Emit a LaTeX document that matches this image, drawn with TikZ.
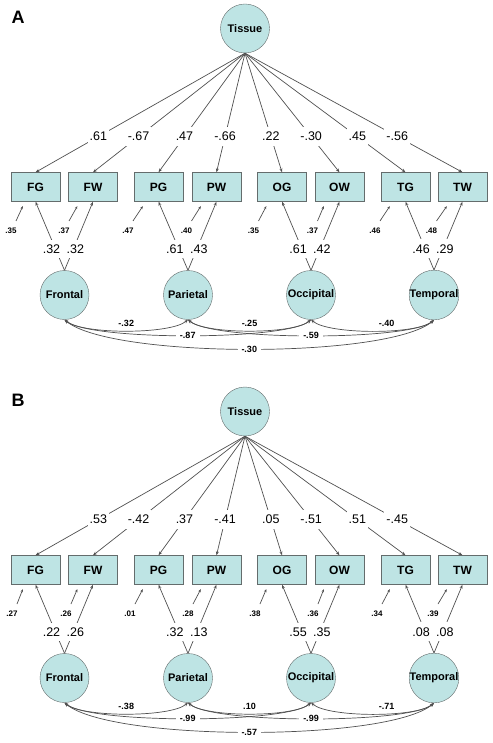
\documentclass[tikz,border=0pt]{standalone}
\usepackage{fontspec}
\setmainfont{Liberation Sans}
\usetikzlibrary{arrows.meta}
\definecolor{semfill}{RGB}{190,228,228}
\definecolor{semedge}{RGB}{100,108,108}
\definecolor{semline}{RGB}{80,80,80}

\begin{document}
\begin{tikzpicture}[x=1pt,y=1pt,
    obs/.style={draw=semedge,fill=semfill,minimum width=49pt,minimum height=29pt,inner sep=0pt,font=\fontsize{12}{12}\selectfont\bfseries},
    lat/.style={circle,draw=semedge,fill=semfill,minimum size=49pt,inner sep=0pt,font=\fontsize{11}{11}\selectfont\bfseries},
    load/.style={draw=semline,line width=0.7pt,-{Stealth[length=4pt,width=3pt]}},
    errarr/.style={draw=semline,line width=0.7pt,-{Stealth[length=3pt,width=2.5pt]}},
    covar/.style={draw=semline,line width=0.7pt,{Stealth[length=4pt,width=3pt]}-{Stealth[length=4pt,width=3pt]}},
    coef/.style={fill=white,inner xsep=2pt,inner ysep=5pt,font=\fontsize{12.5}{13}\selectfont},
    lcoef/.style={coef,inner xsep=0.5pt,xshift=-4pt},
    rcoef/.style={coef,inner xsep=0.5pt,xshift=2pt},
    errval/.style={inner sep=0pt,font=\fontsize{8}{8}\selectfont\bfseries},
    covlab/.style={inner sep=0.5pt,font=\fontsize{9}{9}\selectfont\bfseries},
    covgap/.style={covlab,fill=white,inner xsep=4pt,inner ysep=0.3pt},
    panel/.style={anchor=west,font=\fontsize{18}{18}\selectfont\bfseries}]
  \useasboundingbox (0,0) rectangle (492,-743);

  % panel A
  \node[panel] (labA) at (8,-17) {A};
  \node[lat] (tisA) at (245,-28.5) {Tissue};
  \node[obs] (fgA) at (35.5,-187) {FG};
  \node[obs] (fwA) at (93,-187) {FW};
  \node[obs] (pgA) at (158.5,-187) {PG};
  \node[obs] (pwA) at (216.5,-187) {PW};
  \node[obs] (ogA) at (282,-187) {OG};
  \node[obs] (owA) at (339.5,-187) {OW};
  \node[obs] (tgA) at (405.5,-187) {TG};
  \node[obs] (twA) at (462.5,-187) {TW};
  \node[lat] (frA) at (64.5,-295) {Frontal};
  \node[lat] (paA) at (188,-295) {Parietal};
  \node[lat] (ocA) at (311,-295) {Occipital};
  \node[lat] (teA) at (434,-295) {Temporal};
  \node[errval] (efgA) at (11,-231) {.35};
  \node[errval] (efwA) at (64,-231) {.37};
  \node[errval] (epgA) at (128,-231) {.47};
  \node[errval] (epwA) at (186.5,-231) {.40};
  \node[errval] (eogA) at (253.5,-231) {.35};
  \node[errval] (eowA) at (312.5,-231) {.37};
  \node[errval] (etgA) at (375,-231) {.46};
  \node[errval] (etwA) at (431.5,-231) {.48};

  \draw[load] (tisA.south) -- node[coef,pos=0.7] {.61} (fgA.north);
  \draw[load] (tisA.south) -- node[coef,pos=0.7] {-.67} (fwA.north);
  \draw[load] (tisA.south) -- node[coef,pos=0.7] {.47} (pgA.north);
  \draw[load] (tisA.south) -- node[coef,pos=0.7] {-.66} (pwA.north);
  \draw[load] (tisA.south) -- node[coef,pos=0.7] {.22} (ogA.north);
  \draw[load] (tisA.south) -- node[coef,pos=0.7] {-.30} (owA.north);
  \draw[load] (tisA.south) -- node[coef,pos=0.7] {.45} (tgA.north);
  \draw[load] (tisA.south) -- node[coef,pos=0.7] {-.56} (twA.north);

  \draw[load] (frA.north) -- node[lcoef,pos=0.31] {.32} (fgA.south);
  \draw[load] (frA.north) -- node[rcoef,pos=0.31] {.32} (fwA.south);
  \draw[load] (paA.north) -- node[lcoef,pos=0.31] {.61} (pgA.south);
  \draw[load] (paA.north) -- node[rcoef,pos=0.31] {.43} (pwA.south);
  \draw[load] (ocA.north) -- node[lcoef,pos=0.31] {.61} (ogA.south);
  \draw[load] (ocA.north) -- node[rcoef,pos=0.31] {.42} (owA.south);
  \draw[load] (teA.north) -- node[lcoef,pos=0.31] {.46} (tgA.south);
  \draw[load] (teA.north) -- node[rcoef,pos=0.31] {.29} (twA.south);

  \draw[errarr] ([shift={(5pt,10pt)}]efgA.center) -- ([shift={(12pt,-4.5pt)}]fgA.south west);
  \draw[errarr] ([shift={(5pt,10pt)}]efwA.center) -- ([shift={(9pt,-4.5pt)}]fwA.south west);
  \draw[errarr] ([shift={(5pt,10pt)}]epgA.center) -- ([shift={(9pt,-4.5pt)}]pgA.south west);
  \draw[errarr] ([shift={(5pt,10pt)}]epwA.center) -- ([shift={(9pt,-4.5pt)}]pwA.south west);
  \draw[errarr] ([shift={(5pt,10pt)}]eogA.center) -- ([shift={(9pt,-4.5pt)}]ogA.south west);
  \draw[errarr] ([shift={(5pt,10pt)}]eowA.center) -- ([shift={(9pt,-4.5pt)}]owA.south west);
  \draw[errarr] ([shift={(5pt,10pt)}]etgA.center) -- ([shift={(9pt,-4.5pt)}]tgA.south west);
  \draw[errarr] ([shift={(5pt,10pt)}]etwA.center) -- ([shift={(9pt,-4.5pt)}]twA.south west);

  \draw[covar] (frA.south) to[out=-40,in=-140,looseness=0.42] node[covgap] {-.30} (teA.south);
  \draw[covar] (frA.south) to[out=-40,in=-140,looseness=0.34] node[covgap] {-.87} (ocA.south);
  \draw[covar] (paA.south) to[out=-40,in=-140,looseness=0.34] node[covgap] {-.59} (teA.south);
  \draw[covar] (frA.south) to[out=-40,in=-140,looseness=0.48] node[covlab,above=3pt] {-.32} (paA.south);
  \draw[covar] (paA.south) to[out=-40,in=-140,looseness=0.48] node[covlab,above=3pt] {-.25} (ocA.south);
  \draw[covar] (ocA.south) to[out=-40,in=-140,looseness=0.48] node[covlab,above=3pt,pos=0.59] {-.40} (teA.south);

  % panel B
  \node[panel] (labB) at (8,-400) {B};
  \node[lat] (tisB) at (245,-411.5) {Tissue};
  \node[obs] (fgB) at (35.5,-570) {FG};
  \node[obs] (fwB) at (93,-570) {FW};
  \node[obs] (pgB) at (158.5,-570) {PG};
  \node[obs] (pwB) at (216.5,-570) {PW};
  \node[obs] (ogB) at (282,-570) {OG};
  \node[obs] (owB) at (339.5,-570) {OW};
  \node[obs] (tgB) at (405.5,-570) {TG};
  \node[obs] (twB) at (462.5,-570) {TW};
  \node[lat] (frB) at (64.5,-678) {Frontal};
  \node[lat] (paB) at (188,-678) {Parietal};
  \node[lat] (ocB) at (311,-678) {Occipital};
  \node[lat] (teB) at (434,-678) {Temporal};
  \node[errval] (efgB) at (12,-614) {.27};
  \node[errval] (efwB) at (66,-614) {.26};
  \node[errval] (epgB) at (130,-614) {.01};
  \node[errval] (epwB) at (188,-614) {.28};
  \node[errval] (eogB) at (255,-614) {.38};
  \node[errval] (eowB) at (313,-614) {.36};
  \node[errval] (etgB) at (377,-614) {.34};
  \node[errval] (etwB) at (433,-614) {.39};

  \draw[load] (tisB.south) -- node[coef,pos=0.7] {.53} (fgB.north);
  \draw[load] (tisB.south) -- node[coef,pos=0.7] {-.42} (fwB.north);
  \draw[load] (tisB.south) -- node[coef,pos=0.7] {.37} (pgB.north);
  \draw[load] (tisB.south) -- node[coef,pos=0.7] {-.41} (pwB.north);
  \draw[load] (tisB.south) -- node[coef,pos=0.7] {.05} (ogB.north);
  \draw[load] (tisB.south) -- node[coef,pos=0.7] {-.51} (owB.north);
  \draw[load] (tisB.south) -- node[coef,pos=0.7] {.51} (tgB.north);
  \draw[load] (tisB.south) -- node[coef,pos=0.7] {-.45} (twB.north);

  \draw[load] (frB.north) -- node[lcoef,pos=0.31] {.22} (fgB.south);
  \draw[load] (frB.north) -- node[rcoef,pos=0.31] {.26} (fwB.south);
  \draw[load] (paB.north) -- node[lcoef,pos=0.31] {.32} (pgB.south);
  \draw[load] (paB.north) -- node[rcoef,pos=0.31] {.13} (pwB.south);
  \draw[load] (ocB.north) -- node[lcoef,pos=0.31] {.55} (ogB.south);
  \draw[load] (ocB.north) -- node[rcoef,pos=0.31] {.35} (owB.south);
  \draw[load] (teB.north) -- node[lcoef,pos=0.31] {.08} (tgB.south);
  \draw[load] (teB.north) -- node[rcoef,pos=0.31] {.08} (twB.south);

  \draw[errarr] ([shift={(5pt,10pt)}]efgB.center) -- ([shift={(12pt,-4.5pt)}]fgB.south west);
  \draw[errarr] ([shift={(5pt,10pt)}]efwB.center) -- ([shift={(9pt,-4.5pt)}]fwB.south west);
  \draw[errarr] ([shift={(5pt,10pt)}]epgB.center) -- ([shift={(9pt,-4.5pt)}]pgB.south west);
  \draw[errarr] ([shift={(5pt,10pt)}]epwB.center) -- ([shift={(9pt,-4.5pt)}]pwB.south west);
  \draw[errarr] ([shift={(5pt,10pt)}]eogB.center) -- ([shift={(9pt,-4.5pt)}]ogB.south west);
  \draw[errarr] ([shift={(5pt,10pt)}]eowB.center) -- ([shift={(9pt,-4.5pt)}]owB.south west);
  \draw[errarr] ([shift={(5pt,10pt)}]etgB.center) -- ([shift={(9pt,-4.5pt)}]tgB.south west);
  \draw[errarr] ([shift={(5pt,10pt)}]etwB.center) -- ([shift={(9pt,-4.5pt)}]twB.south west);

  \draw[covar] (frB.south) to[out=-40,in=-140,looseness=0.42] node[covgap] {-.57} (teB.south);
  \draw[covar] (frB.south) to[out=-40,in=-140,looseness=0.34] node[covgap] {-.99} (ocB.south);
  \draw[covar] (paB.south) to[out=-40,in=-140,looseness=0.34] node[covgap] {-.99} (teB.south);
  \draw[covar] (frB.south) to[out=-40,in=-140,looseness=0.48] node[covlab,above=3pt] {-.38} (paB.south);
  \draw[covar] (paB.south) to[out=-40,in=-140,looseness=0.48] node[covlab,above=3pt] {.10} (ocB.south);
  \draw[covar] (ocB.south) to[out=-40,in=-140,looseness=0.48] node[covlab,above=3pt,pos=0.59] {-.71} (teB.south);
\end{tikzpicture}
\end{document}
